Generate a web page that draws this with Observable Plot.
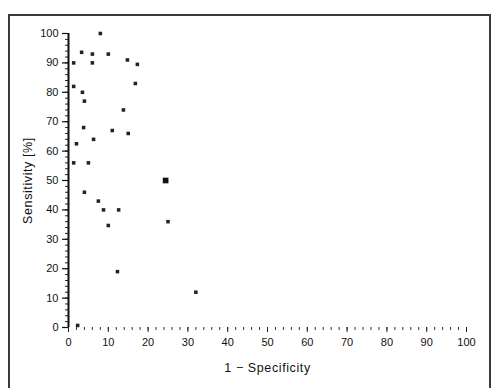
<!DOCTYPE html>
<html>
<head>
<meta charset="utf-8">
<script src="https://cdn.jsdelivr.net/npm/d3@7"></script>
<script src="https://cdn.jsdelivr.net/npm/@observablehq/plot@0.6"></script>
<style>
  html, body { margin: 0; padding: 0; background: #fff; }
  #wrap { position: relative; width: 493px; height: 388px; overflow: hidden; }
  #frame { position: absolute; left: 8px; top: 14px; width: 479px; height: 380px; border: 2px solid #3a3a3a; box-sizing: content-box; pointer-events: none; }
  #chart { position: absolute; left: 0; top: 0; }
</style>
</head>
<body>
<div id="wrap"><div id="chart"></div><div id="frame"></div></div>
<script>
// 1 - specificity (%) and sensitivity (%) of each study point
const fpr  = [3.3, 6, 6, 10, 1.3, 14.8, 17.3, 16.8, 1.3, 3.5, 4, 13.8, 3.8, 6.3, 11, 15, 2, 1.3, 5, 4, 7.5, 8.8, 12.6, 10, 25, 12.3, 32, 2.3, 8];
const sens = [93.6, 93, 90, 93, 90, 91, 89.5, 83, 82, 80, 77, 74, 68, 64, 67, 66, 62.5, 56, 56, 46, 43, 40, 40, 34.7, 36, 19, 12, 0.7, 100];
// the larger marker
const bigFpr = [24.4];
const bigSens = [50];

const xTicks = [0, 10, 20, 30, 40, 50, 60, 70, 80, 90, 100];
const yTicks = [0, 10, 20, 30, 40, 50, 60, 70, 80, 90, 100];
const minorTicks = d3.range(0, 101, 2);

const pts = fpr.map((x, i) => ({x, y: sens[i]}));
const big = bigFpr.map((x, i) => ({x, y: bigSens[i]}));

const chart = Plot.plot({
  width: 493,
  height: 388,
  marginLeft: 68,
  marginRight: 27,
  marginTop: 33,
  marginBottom: 61,
  style: {fontFamily: "'Liberation Sans', Arial, sans-serif", fontSize: "11px", color: "#111", background: "transparent"},
  x: {domain: [0, 100]},
  y: {domain: [0, 100]},
  marks: [
    Plot.axisY(minorTicks, {tickSize: 3, text: null, label: null, stroke: "#222"}),
    Plot.axisY(yTicks, {tickSize: 6, tickPadding: 4, label: "Sensitivity [%]", labelAnchor: "center", labelArrow: "none", labelOffset: 45, fontSize: 11, stroke: "#111", strokeWidth: 1.2}),
    Plot.axisX(minorTicks, {tickSize: 3, text: null, label: null, stroke: "#333"}),
    Plot.axisX(xTicks, {tickSize: 5, tickPadding: 6, label: "1 − Specificity", labelAnchor: "center", labelArrow: "none", labelOffset: 44, fontSize: 11, stroke: "#222"}),
    Plot.ruleX([0], {y1: 0, y2: 100, stroke: "#111", strokeWidth: 2}),
    Plot.dot(pts, {x: "x", y: "y", symbol: "square", r: 2, fill: "#222", stroke: "none"}),
    Plot.dot(big, {x: "x", y: "y", symbol: "square", r: 3.2, fill: "#111", stroke: "none"})
  ]
});
// axis titles slightly larger than tick labels, as in the reference
chart.querySelectorAll("g[aria-label='y-axis label'] text, g[aria-label='x-axis label'] text").forEach(t => {
  t.setAttribute("font-size", "12.5");
  t.style.letterSpacing = "0.6px";
});
document.getElementById("chart").appendChild(chart);
</script>
</body>
</html>
